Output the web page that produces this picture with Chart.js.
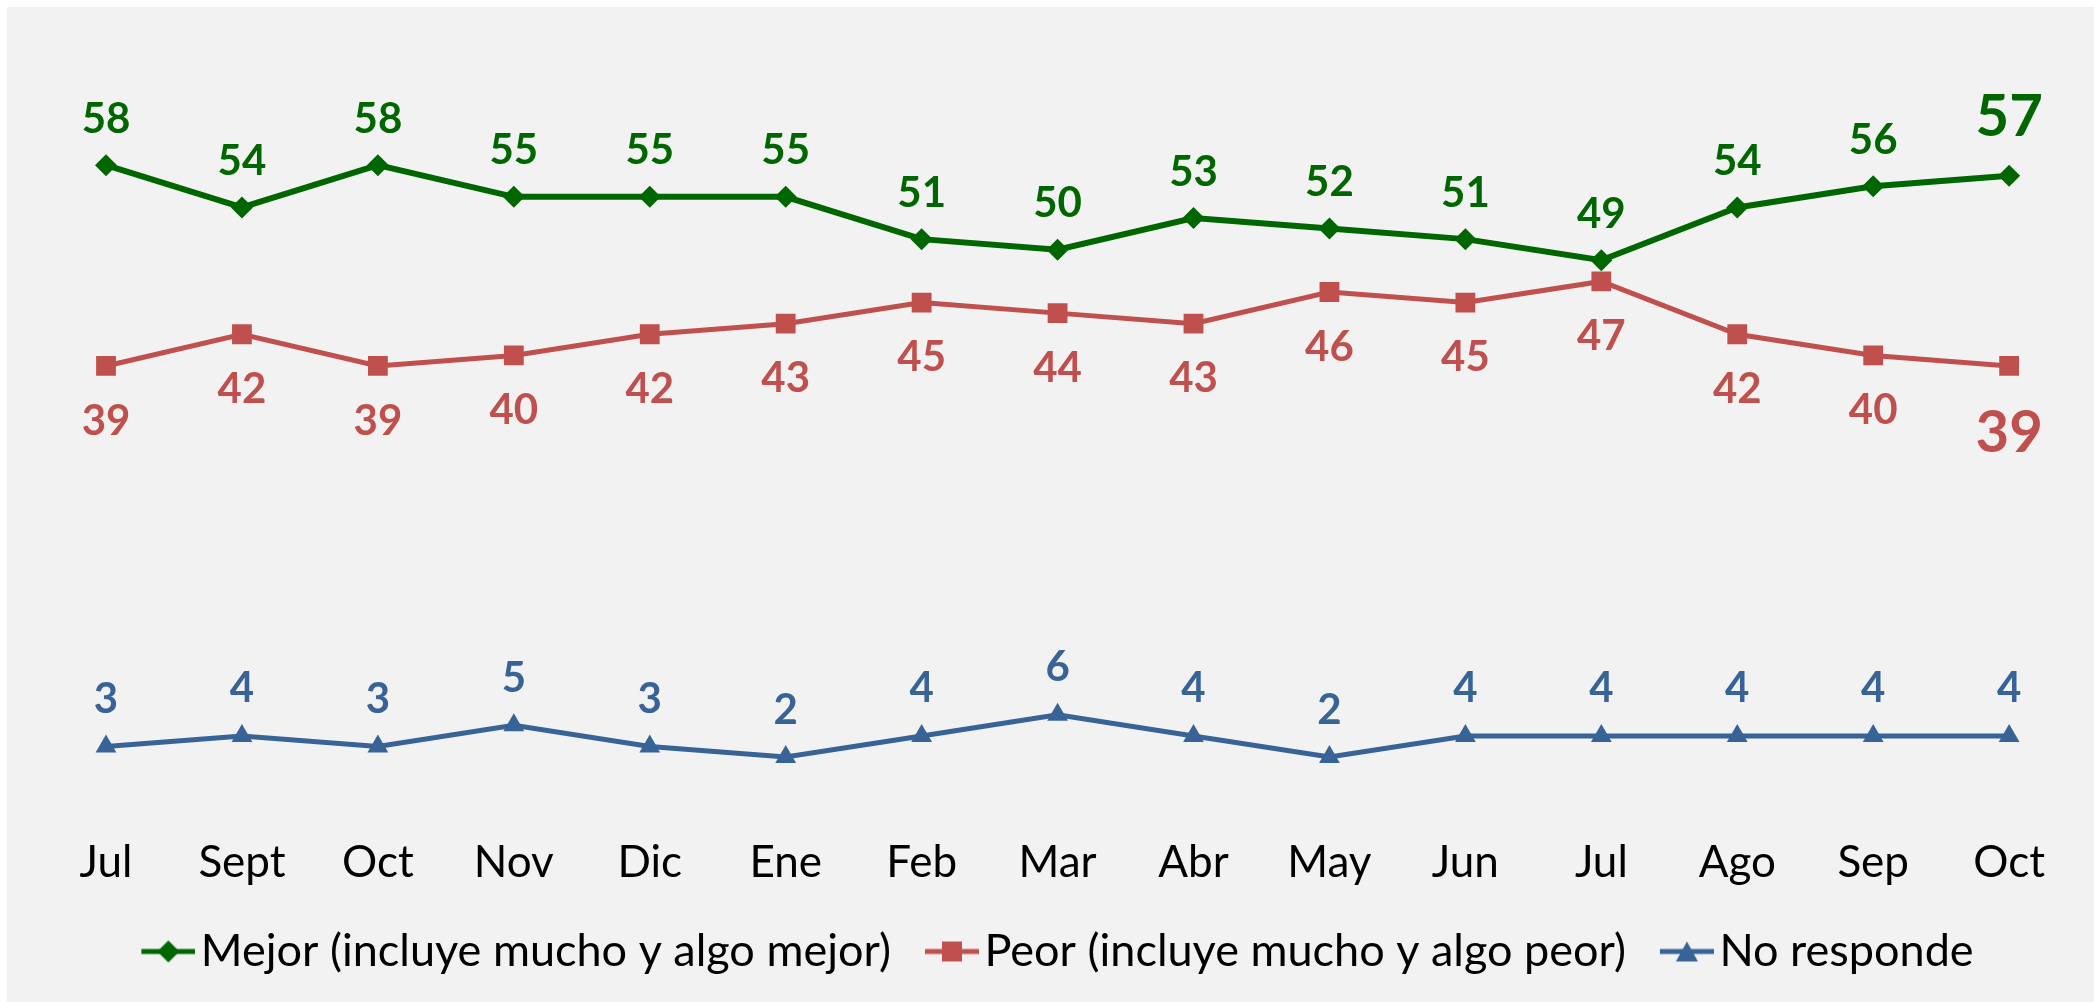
<!DOCTYPE html>
<html>
<head>
<meta charset="utf-8">
<script src="https://cdn.jsdelivr.net/npm/chart.js@4"></script>
<style>
  html, body { margin: 0; padding: 0; background: #ffffff; }
  #c { display: block; }
</style>
</head>
<body>
<canvas id="c" width="2094" height="1002"></canvas>
<script>
// ---- data ----
const months = ['Jul', 'Sept', 'Oct', 'Nov', 'Dic', 'Ene', 'Feb', 'Mar', 'Abr', 'May', 'Jun', 'Jul', 'Ago', 'Sep', 'Oct'];
const mejor = [58, 54, 58, 55, 55, 55, 51, 50, 53, 52, 51, 49, 54, 56, 57];
const peor = [39, 42, 39, 40, 42, 43, 45, 44, 43, 46, 45, 47, 42, 40, 39];
const noResponde = [3, 4, 3, 5, 3, 2, 4, 6, 4, 2, 4, 4, 4, 4, 4];
const seriesNames = ['Mejor (incluye mucho y algo mejor)', 'Peor (incluye mucho y algo peor)', 'No responde'];

const GREEN = '#006600';
const RED = '#C0504D';
const BLUE = '#386397';
const FONT = 'Lato';
const LEGEND_BOX = 71;
const LEGEND_FONT = 45;

// legend icon: line with marker; transparent left part so the visible icon sits next to the text
function legendIcon(color, style, lw) {
  const cv = document.createElement('canvas');
  const W = LEGEND_BOX + LEGEND_FONT - 11;
  cv.width = W; cv.height = 26;
  const g = cv.getContext('2d');
  const x0 = W - 54, x1 = W, cx = W - 27;
  g.strokeStyle = color; g.fillStyle = color; g.lineWidth = lw;
  g.beginPath(); g.moveTo(x0, 13); g.lineTo(x1, 13); g.stroke();
  g.beginPath();
  if (style === 'diamond') {
    g.moveTo(cx, 2); g.lineTo(cx + 11, 13); g.lineTo(cx, 24); g.lineTo(cx - 11, 13); g.closePath();
  } else if (style === 'square') {
    g.rect(cx - 10, 3, 20, 20);
  } else {
    g.moveTo(cx, 3); g.lineTo(cx + 11, 23); g.lineTo(cx - 11, 23); g.closePath();
  }
  g.fill();
  return cv;
}

const bgPlugin = {
  id: 'bg',
  afterLayout(chart) {
    // re-centre the legend on its visible content (icons carry a transparent left margin)
    const lg = chart.legend;
    if (lg) { lg.left -= 18; lg.right -= 18; }
    // nudge the category labels slightly lower, as in the original
    const xs = chart.scales.x;
    if (xs) { xs.top += 9; xs.bottom += 9; }
  },
  beforeDraw(chart) {
    const ctx = chart.ctx;
    ctx.save();
    ctx.fillStyle = '#ffffff';
    ctx.fillRect(0, 0, chart.width, chart.height);
    ctx.fillStyle = '#f2f2f2';
    ctx.fillRect(7, 7, chart.width - 7, chart.height - 7);
    ctx.restore();
  }
};

const labelPlugin = {
  id: 'pointLabels',
  afterDatasetsDraw(chart) {
    const ctx = chart.ctx;
    chart.data.datasets.forEach((ds, i) => {
      const meta = chart.getDatasetMeta(i);
      const n = meta.data.length;
      meta.data.forEach((pt, j) => {
        const last = j === n - 1;
        const size = last ? ds.lastLabelSize : 42;
        const off = last ? ds.lastLabelOffset : ds.labelOffset;
        ctx.save();
        ctx.font = 'bold ' + size + 'px ' + FONT;
        ctx.fillStyle = ds.borderColor;
        ctx.textAlign = 'center';
        ctx.textBaseline = 'middle';
        ctx.fillText(String(ds.data[j]), pt.x, pt.y + off);
        ctx.restore();
      });
    });
  }
};

function build() {
  const icons = [legendIcon(GREEN, 'diamond', 5), legendIcon(RED, 'square', 5), legendIcon(BLUE, 'triangle', 5)];
  new Chart(document.getElementById('c'), {
    type: 'line',
    data: {
      labels: months,
      datasets: [
        { label: seriesNames[0], data: mejor, borderColor: GREEN, backgroundColor: GREEN, borderWidth: 6,
          pointStyle: 'rectRot', pointRadius: 11, pointBorderWidth: 0,
          labelOffset: -46, lastLabelOffset: -58, lastLabelSize: 58 },
        { label: seriesNames[1], data: peor, borderColor: RED, backgroundColor: RED, borderWidth: 5,
          pointStyle: 'rect', pointRadius: 14, pointBorderWidth: 0,
          labelOffset: 55, lastLabelOffset: 67, lastLabelSize: 58 },
        { label: seriesNames[2], data: noResponde, borderColor: BLUE, backgroundColor: BLUE, borderWidth: 5,
          pointStyle: 'triangle', pointRadius: 12, pointBorderWidth: 0,
          labelOffset: -47, lastLabelOffset: -47, lastLabelSize: 42 }
      ]
    },
    options: {
      responsive: false,
      devicePixelRatio: 1,
      animation: false,
      layout: { padding: { left: 106, right: 83, top: 144, bottom: 18 } },
      scales: {
        x: {
          grid: { display: false, drawTicks: false },
          border: { display: false },
          ticks: { color: '#000000', font: { family: FONT, size: 44 }, padding: 49, maxRotation: 0, autoSkip: false }
        },
        y: { display: false, min: 0, max: 60 }
      },
      plugins: {
        legend: {
          position: 'bottom',
          labels: {
            color: '#000000',
            font: { family: FONT, size: LEGEND_FONT },
            usePointStyle: true,
            pointStyleWidth: LEGEND_BOX,
            padding: 0,
            generateLabels(chart) {
              return chart.data.datasets.map((ds, i) => ({
                text: ds.label, pointStyle: icons[i], fillStyle: ds.borderColor, strokeStyle: ds.borderColor,
                lineWidth: 0, hidden: false, datasetIndex: i, fontColor: '#000000'
              }));
            }
          }
        },
        tooltip: { enabled: false }
      }
    },
    plugins: [bgPlugin, labelPlugin]
  });
}

Promise.all([
  document.fonts.load('44px ' + FONT),
  document.fonts.load(LEGEND_FONT + 'px ' + FONT),
  document.fonts.load('bold 42px ' + FONT)
]).then(build, build);
</script>
</body>
</html>
